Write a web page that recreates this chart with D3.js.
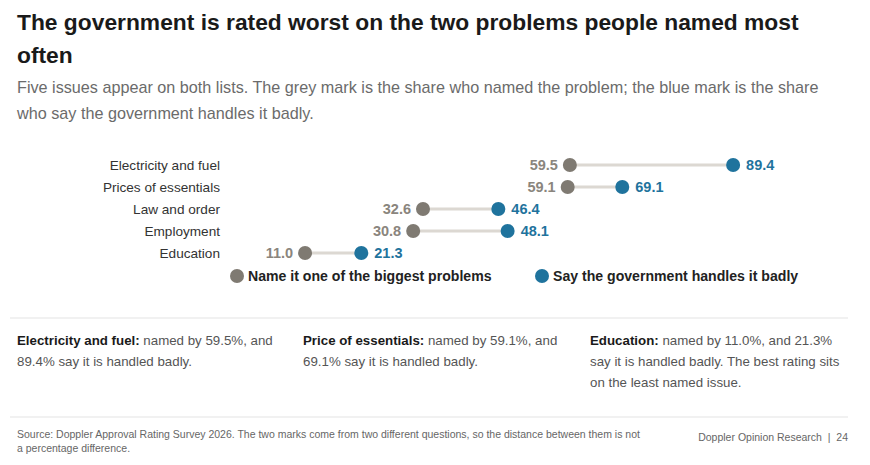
<!DOCTYPE html>
<html>
<head>
<meta charset="utf-8">
<script src="https://cdn.jsdelivr.net/npm/d3@7"></script>
<style>
  body { margin: 0; background: #fff; font-family: "Liberation Sans", Arial, sans-serif; }
  svg { display: block; }
</style>
</head>
<body>
<svg id="chart" width="870" height="465"></svg>
<script>
// issues, top to bottom
const issues = ['Electricity and fuel', 'Prices of essentials', 'Law and order', 'Employment', 'Education'];
const named = [59.5, 59.1, 32.6, 30.8, 11.0];      // share naming it a big problem
const badly = [89.4, 69.1, 46.4, 48.1, 21.3];      // share saying govt handles it badly
const legendLabels = ['Name it one of the biggest problems', 'Say the government handles it badly'];

const notes = [
  { head: 'Electricity and fuel:', lines: ['named by 59.5%, and', '89.4% say it is handled badly.'] },
  { head: 'Price of essentials:', lines: ['named by 59.1%, and', '69.1% say it is handled badly.'] },
  { head: 'Education:', lines: ['named by 11.0%, and 21.3%', 'say it is handled badly. The best rating sits', 'on the least named issue.'] }
];

const grey = '#7f7a72';
const blue = '#1f739d';

const svg = d3.select('#chart');

// title + subtitle
svg.append('text').attr('x', 17).attr('y', 30)
  .attr('font-size', 22.8).attr('font-weight', 'bold').attr('fill', '#1a1a1a')
  .text('The government is rated worst on the two problems people named most');
svg.append('text').attr('x', 17).attr('y', 63)
  .attr('font-size', 22.8).attr('font-weight', 'bold').attr('fill', '#1a1a1a')
  .text('often');
svg.append('text').attr('x', 17).attr('y', 93)
  .attr('font-size', 16.2).attr('fill', '#6b6b6b')
  .text('Five issues appear on both lists. The grey mark is the share who named the problem; the blue mark is the share');
svg.append('text').attr('x', 17).attr('y', 119)
  .attr('font-size', 16.2).attr('fill', '#6b6b6b')
  .text('who say the government handles it badly.');

const x = d3.scaleLinear().domain([0, 100]).range([245, 791]);
const y = d3.scaleBand().domain(issues).range([154, 264]).paddingInner(0);

const rows = issues.map((d, i) => ({ issue: d, named: named[i], badly: badly[i] }));
const cy = d => y(d.issue) + y.bandwidth() / 2;

const g = svg.append('g');

g.selectAll('.cat').data(rows).join('text')
  .attr('x', 220).attr('y', cy).attr('dy', '0.35em')
  .attr('text-anchor', 'end').attr('font-size', 13.6).attr('fill', '#333')
  .text(d => d.issue);

g.selectAll('.link').data(rows).join('line')
  .attr('x1', d => x(d.named)).attr('x2', d => x(d.badly))
  .attr('y1', cy).attr('y2', cy)
  .attr('stroke', '#dcd8d2').attr('stroke-width', 3);

g.selectAll('.dn').data(rows).join('circle')
  .attr('cx', d => x(d.named)).attr('cy', cy).attr('r', 7).attr('fill', grey);
g.selectAll('.db').data(rows).join('circle')
  .attr('cx', d => x(d.badly)).attr('cy', cy).attr('r', 7).attr('fill', blue);

g.selectAll('.ln').data(rows).join('text')
  .attr('x', d => x(d.named) - 12).attr('y', cy).attr('dy', '0.35em')
  .attr('text-anchor', 'end').attr('font-size', 14.5).attr('font-weight', 'bold').attr('fill', '#8a857d')
  .text(d => d.named.toFixed(1));
g.selectAll('.lb').data(rows).join('text')
  .attr('x', d => x(d.badly) + 13).attr('y', cy).attr('dy', '0.35em')
  .attr('font-size', 14.5).attr('font-weight', 'bold').attr('fill', blue)
  .text(d => d.badly.toFixed(1));

// legend
const legX = [237, 542];
const leg = svg.append('g');
legendLabels.forEach((t, i) => {
  leg.append('circle').attr('cx', legX[i]).attr('cy', 276).attr('r', 7).attr('fill', i ? blue : grey);
  leg.append('text').attr('x', legX[i] + 11).attr('y', 276).attr('dy', '0.35em')
    .attr('font-size', 14.1).attr('font-weight', 'bold').attr('fill', '#222').text(t);
});

// rules
svg.append('line').attr('x1', 10).attr('x2', 848).attr('y1', 318).attr('y2', 318).attr('stroke', '#e3e3e3');
svg.append('line').attr('x1', 10).attr('x2', 848).attr('y1', 417).attr('y2', 417).attr('stroke', '#e3e3e3');

// notes
const noteX = [17, 303, 590];
notes.forEach((n, i) => {
  n.lines.forEach((ln, j) => {
    const t = svg.append('text').attr('x', noteX[i]).attr('y', 345 + j * 21)
      .attr('font-size', 13.3).attr('fill', '#555');
    if (j === 0) {
      t.append('tspan').attr('font-weight', 'bold').attr('fill', '#1a1a1a').text(n.head + ' ');
    }
    t.append('tspan').text(ln);
  });
});

// footer
svg.append('text').attr('x', 17).attr('y', 438).attr('font-size', 10.5).attr('fill', '#666')
  .text('Source: Doppler Approval Rating Survey 2026. The two marks come from two different questions, so the distance between them is not');
svg.append('text').attr('x', 17).attr('y', 452).attr('font-size', 10.5).attr('fill', '#666')
  .text('a percentage difference.');
svg.append('text').attr('x', 848).attr('y', 441).attr('text-anchor', 'end').attr('font-size', 10.5).attr('fill', '#666')
  .attr('xml:space', 'preserve').style('white-space', 'pre')
  .text('Doppler Opinion Research  |  24');
</script>
</body>
</html>
